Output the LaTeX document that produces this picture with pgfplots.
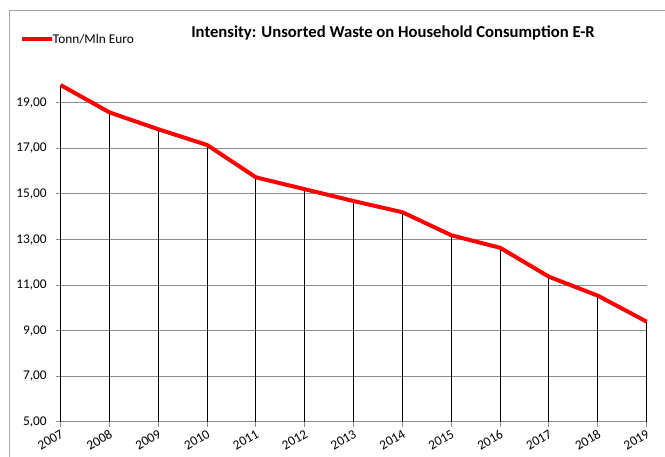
\documentclass[border=0pt]{standalone}
\usepackage{pgfplots}
\pgfplotsset{compat=1.18}
\usepackage{pgfplotstable}
\usepackage{fontspec}
\setmainfont{Carlito}
\definecolor{gridgray}{HTML}{8C8C8C}
\definecolor{framegray}{HTML}{A6A6A6}
\pgfplotstableread{
year val
2007 19.78
2008 18.58
2009 17.84
2010 17.15
2011 15.73
2012 15.21
2013 14.69
2014 14.20
2015 13.19
2016 12.64
2017 11.37
2018 10.54
2019 9.40
}\data
\begin{document}
\begin{tikzpicture}[x=1pt,y=1pt]
\useasboundingbox (0,0) rectangle (498.75,342.75);
\draw[framegray, line width=0.75pt] (6.75,0) -- (6.75,334.7) -- (498.75,334.7);
\node[font=\fontsize{12.5pt}{14pt}\selectfont\bfseries] at (294.75,318) {Intensity: Unsorted Waste on Household Consumption E-R};
\draw[red, line width=3pt] (16.5,313.5) -- (39,313.5);
\node[anchor=west, inner sep=0pt, font=\fontsize{10pt}{12pt}\selectfont] at (39.5,313.5) {Tonn/Mln Euro};
\begin{axis}[
  at={(45.4pt,26.25pt)}, anchor=south west,
  scale only axis, width=439.6pt, height=256.5pt,
  xmin=2007, xmax=2019, ymin=5, ymax=20,
  clip=false,
  axis lines*=left,
  x axis line style={gridgray, line width=0.75pt},
  y axis line style={draw=none},
  xtick={2007,...,2019},
  ytick={5,7,...,19},
  ymajorgrids=true,
  grid style={gridgray, line width=0.75pt},
  tick style={gridgray, line width=0.75pt},
  tick align=outside,
  major tick length=3.75pt,
  xticklabel style={rotate=30, anchor=north east, inner sep=1pt, font=\fontsize{10pt}{12pt}\selectfont},
  yticklabel style={font=\fontsize{10pt}{12pt}\selectfont, inner sep=2pt, xshift=-4.5pt},
  y tick label style={/pgf/number format/.cd, fixed, fixed zerofill, precision=2, use comma},
  /pgf/number format/assume math mode=true,
  xticklabel={\pgfmathprintnumber[1000 sep={},assume math mode=true]{\tick}},
]
\addplot[draw=none, mark=none, forget plot,
  error bars/.cd, y dir=minus, y explicit, error mark=none,
  error bar style={black, line width=0.75pt}]
  table[x=year, y=val, y error expr=\thisrow{val}-5] {\data};
\addplot[red, line width=3pt, mark=none, line join=round] table[x=year, y=val] {\data};
\end{axis}
\end{tikzpicture}
\end{document}
